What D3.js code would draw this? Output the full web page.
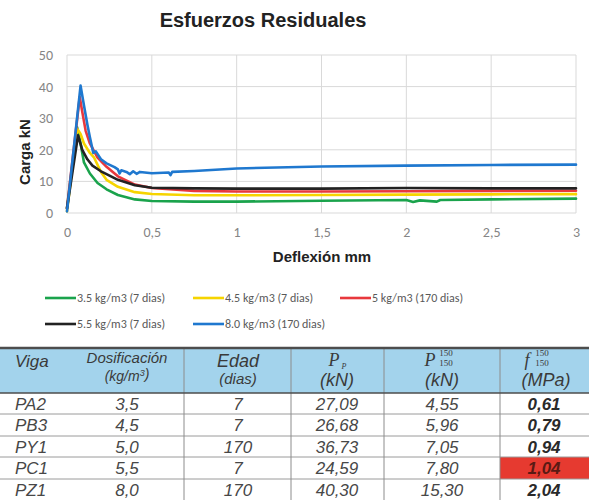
<!DOCTYPE html>
<html><head><meta charset="utf-8">
<script src="https://cdn.jsdelivr.net/npm/d3@7"></script>
<style>body{margin:0;background:#fff} svg{display:block}</style>
</head><body>
<svg id="chart" width="589" height="500"></svg>
<script>
// Load–deflection curves, one pair of arrays per mix
const seriesNames = ["3.5 kg/m3 (7 dias)", "4.5 kg/m3 (7 dias)", "5 kg/m3 (170 dias)", "5.5 kg/m3 (7 dias)", "8.0 kg/m3 (170 dias)"];
const seriesColors = ["#1aa34c", "#f6d400", "#e8383d", "#222222", "#1f78cf"];

const xGreen = [0, 0.06, 0.08, 0.1, 0.135, 0.18, 0.233, 0.3, 0.4, 0.5, 0.75, 1.0, 1.5, 2.0, 2.04, 2.08, 2.18, 2.2, 2.5, 3.0];
const yGreen = [1.5, 27.09, 22, 16, 12.5, 9.5, 7.5, 5.7, 4.3, 3.8, 3.6, 3.6, 3.9, 4.1, 3.5, 4.0, 3.6, 4.1, 4.3, 4.55];

const xYellow = [0, 0.06, 0.08, 0.1, 0.135, 0.16, 0.2, 0.233, 0.3, 0.4, 0.5, 0.75, 1.0, 1.5, 2.0, 2.5, 3.0];
const yYellow = [0.5, 26.68, 25, 22, 19, 17.5, 13, 10.5, 8.3, 6.6, 6.0, 5.6, 5.6, 5.7, 5.8, 5.9, 5.96];

const xRed = [0, 0.075, 0.09, 0.11, 0.135, 0.18, 0.233, 0.3, 0.4, 0.5, 0.75, 1.0, 1.5, 2.0, 2.5, 3.0];
const yRed = [1.5, 36.73, 32, 26, 22, 17.5, 14.6, 11.6, 9.0, 7.9, 7.0, 6.8, 6.8, 6.9, 7.0, 7.05];

const xBlack = [0, 0.065, 0.09, 0.12, 0.15, 0.2, 0.233, 0.3, 0.4, 0.5, 0.75, 1.0, 1.5, 2.0, 2.5, 3.0];
const yBlack = [1.5, 24.59, 20, 17, 15, 13.2, 12.3, 10.5, 8.8, 8.0, 7.8, 7.7, 7.7, 7.9, 7.8, 7.80];

const xBlue = [0, 0.08, 0.1, 0.12, 0.135, 0.155, 0.17, 0.2, 0.233, 0.28, 0.3, 0.31, 0.32, 0.35, 0.37, 0.39, 0.41, 0.43, 0.5, 0.6, 0.61, 0.62, 0.75, 1.0, 1.5, 2.0, 2.5, 3.0];
const yBlue = [0.5, 40.30, 34, 28, 24, 19, 19.5, 17, 15.7, 14.5, 13.8, 12.5, 13.5, 13.0, 12.3, 13.2, 12.4, 13.0, 12.6, 12.8, 12.0, 13.0, 13.3, 14.1, 14.7, 15.0, 15.2, 15.30];

const xSeries = [xGreen, xYellow, xRed, xBlack, xBlue];
const ySeries = [yGreen, yYellow, yRed, yBlack, yBlue];

const xTicks = [0, 0.5, 1, 1.5, 2, 2.5, 3];
const yTicks = [0, 10, 20, 30, 40, 50];

// Summary table
const viga = ["PA2", "PB3", "PY1", "PC1", "PZ1"];
const dosificacion = [3.5, 4.5, 5.0, 5.5, 8.0];
const edad = [7, 7, 170, 7, 170];
const pPeak = [27.09, 26.68, 36.73, 24.59, 40.30];
const p150 = [4.55, 5.96, 7.05, 7.80, 15.30];
const f150 = [0.61, 0.79, 0.94, 1.04, 2.04];
const highlightRow = 3;

const svg = d3.select("#chart");
const comma = f => v => d3.format(f)(v).replace(".", ",");
const tickFont = "Carlito, Lato, sans-serif";

// ---- chart ----
const x = d3.scaleLinear().domain([0, 3]).range([67, 576]);
const y = d3.scaleLinear().domain([0, 50]).range([213, 55]);

svg.append("text").attr("x", 263).attr("y", 27).attr("text-anchor", "middle")
  .attr("font-family", "Liberation Sans, Arial, sans-serif").attr("font-weight", "bold")
  .attr("font-size", 20).attr("fill", "#222").text("Esfuerzos Residuales");

const grid = svg.append("g").attr("stroke", "#d9d9d9").attr("stroke-width", 1);
grid.selectAll(".gx").data(xTicks).join("line")
  .attr("x1", d => x(d)).attr("x2", d => x(d)).attr("y1", y(0)).attr("y2", y(50));
grid.selectAll(".gy").data(yTicks).join("line")
  .attr("y1", d => y(d)).attr("y2", d => y(d)).attr("x1", x(0)).attr("x2", x(3));

const yAxis = svg.append("g").attr("transform", `translate(${x(0)},0)`)
  .call(d3.axisLeft(y).tickValues(yTicks).tickSize(0).tickPadding(14));
const xAxis = svg.append("g").attr("transform", `translate(0,${y(0)})`)
  .call(d3.axisBottom(x).tickValues(xTicks).tickSize(0).tickPadding(14).tickFormat(comma("")));
[yAxis, xAxis].forEach(a => {
  a.select(".domain").remove();
  a.selectAll("text").attr("font-family", tickFont).attr("font-size", 14).attr("fill", "#858585");
});

svg.append("text").attr("transform", "translate(30,152) rotate(-90)").attr("text-anchor", "middle")
  .attr("font-family", "Liberation Sans, Arial, sans-serif").attr("font-weight", "bold")
  .attr("font-size", 15).attr("fill", "#222").text("Carga kN");
svg.append("text").attr("x", 322).attr("y", 262).attr("text-anchor", "middle")
  .attr("font-family", "Liberation Sans, Arial, sans-serif").attr("font-weight", "bold")
  .attr("font-size", 15).attr("fill", "#222").text("Deflexión mm");

const line = d3.line().x(d => x(d[0])).y(d => y(d[1]));
svg.append("g").selectAll("path").data(seriesNames.map((n, i) => d3.zip(xSeries[i], ySeries[i])))
  .join("path").attr("d", line).attr("fill", "none")
  .attr("stroke", (d, i) => seriesColors[i]).attr("stroke-width", 2.6)
  .attr("stroke-linejoin", "round").attr("stroke-linecap", "round");

// legend
const legendPos = [[45, 298], [193, 298], [340, 298], [45, 324], [193, 324]];
const lg = svg.append("g").selectAll("g").data(seriesNames).join("g")
  .attr("transform", (d, i) => `translate(${legendPos[i][0]},${legendPos[i][1]})`);
lg.append("line").attr("x1", 0).attr("x2", 31).attr("stroke", (d, i) => seriesColors[i]).attr("stroke-width", 2.6);
lg.append("text").attr("x", 32).attr("dy", "0.35em").attr("font-family", tickFont)
  .attr("font-size", 12).attr("fill", "#595959").text(d => d);

// ---- table ----
const colBounds = [0, 184, 291, 384, 500, 589];
const headTop = 348, headBottom = 393;
const rowEdges = [393, 414, 436, 457, 479, 500];
const tf = "Liberation Sans, Arial, sans-serif";
const mf = "Liberation Serif, DejaVu Serif, serif";
const tbl = svg.append("g");

tbl.append("rect").attr("x", 0).attr("y", headTop).attr("width", 589).attr("height", headBottom - headTop).attr("fill", "#a3d3ec");
tbl.append("rect").attr("x", colBounds[4]).attr("y", rowEdges[highlightRow])
  .attr("width", colBounds[5] - colBounds[4]).attr("height", rowEdges[highlightRow + 1] - rowEdges[highlightRow]).attr("fill", "#e63a30");

tbl.selectAll(".hl").data(rowEdges.slice(1, 5)).join("line")
  .attr("x1", 0).attr("x2", 589).attr("y1", d => d).attr("y2", d => d).attr("stroke", "#9a9a9a").attr("stroke-width", 1);
tbl.selectAll(".vl").data(colBounds.slice(1, 5)).join("line")
  .attr("x1", d => d).attr("x2", d => d).attr("y1", headTop).attr("y2", 500).attr("stroke", "#8c8c8c").attr("stroke-width", 1);
tbl.append("line").attr("x1", 0).attr("x2", 589).attr("y1", headTop).attr("y2", headTop).attr("stroke", "#4d4d4d").attr("stroke-width", 2.5);
tbl.append("line").attr("x1", 0).attr("x2", 589).attr("y1", headBottom).attr("y2", headBottom).attr("stroke", "#4d4d4d").attr("stroke-width", 1.5);

function txt(xp, yp, s, size, opts = {}) {
  return tbl.append("text").attr("x", xp).attr("y", yp).attr("text-anchor", opts.anchor || "middle")
    .attr("dy", "0.35em").attr("font-family", opts.family || tf).attr("font-style", opts.upright ? "normal" : "italic")
    .attr("font-weight", opts.bold ? "bold" : "normal").attr("font-size", size)
    .attr("fill", opts.fill || "#3a3a3a").text(s);
}

// header cells
txt(15, 361, "Viga", 17, { anchor: "start" });
txt(127, 358, "Dosificación", 15);
const kg = txt(127, 376, "(kg/m", 14);
kg.append("tspan").attr("font-size", 9).attr("dy", "-0.6em").text("3");
kg.append("tspan").attr("dy", "0.25em").text(")");
txt(238, 361, "Edad", 18);
txt(238, 379, "(dias)", 15);
txt(334, 360, "P", 18, { family: mf });
txt(344, 366, "P", 8, { family: mf });
txt(337, 380, "(kN)", 18);
txt(430, 360, "P", 18, { family: mf });
txt(446, 353, "150", 9, { family: mf, upright: true });
txt(446, 363, "150", 9, { family: mf, upright: true });
txt(442, 380, "(kN)", 18);
txt(527, 360, "f", 18, { family: mf });
txt(542, 353, "150", 9, { family: mf, upright: true });
txt(542, 363, "150", 9, { family: mf, upright: true });
txt(546, 380, "(MPa)", 18);

// body rows
const f2 = comma(".2f"), f1 = comma(".1f");
viga.forEach((v, i) => {
  const cy = (rowEdges[i] + rowEdges[i + 1]) / 2 + 0.5;
  txt(15, cy, v, 17, { anchor: "start", fill: "#474747" });
  txt(127, cy, f1(dosificacion[i]), 17, { fill: "#474747" });
  txt(238, cy, String(edad[i]), 17, { fill: "#474747" });
  txt(337, cy, f2(pPeak[i]), 17, { fill: "#474747" });
  txt(442, cy, f2(p150[i]), 17, { fill: "#474747" });
  txt(544, cy, f2(f150[i]), 17, { bold: true, fill: i === highlightRow ? "#5a1a14" : "#2a2a2a" });
});
</script>
</body></html>
